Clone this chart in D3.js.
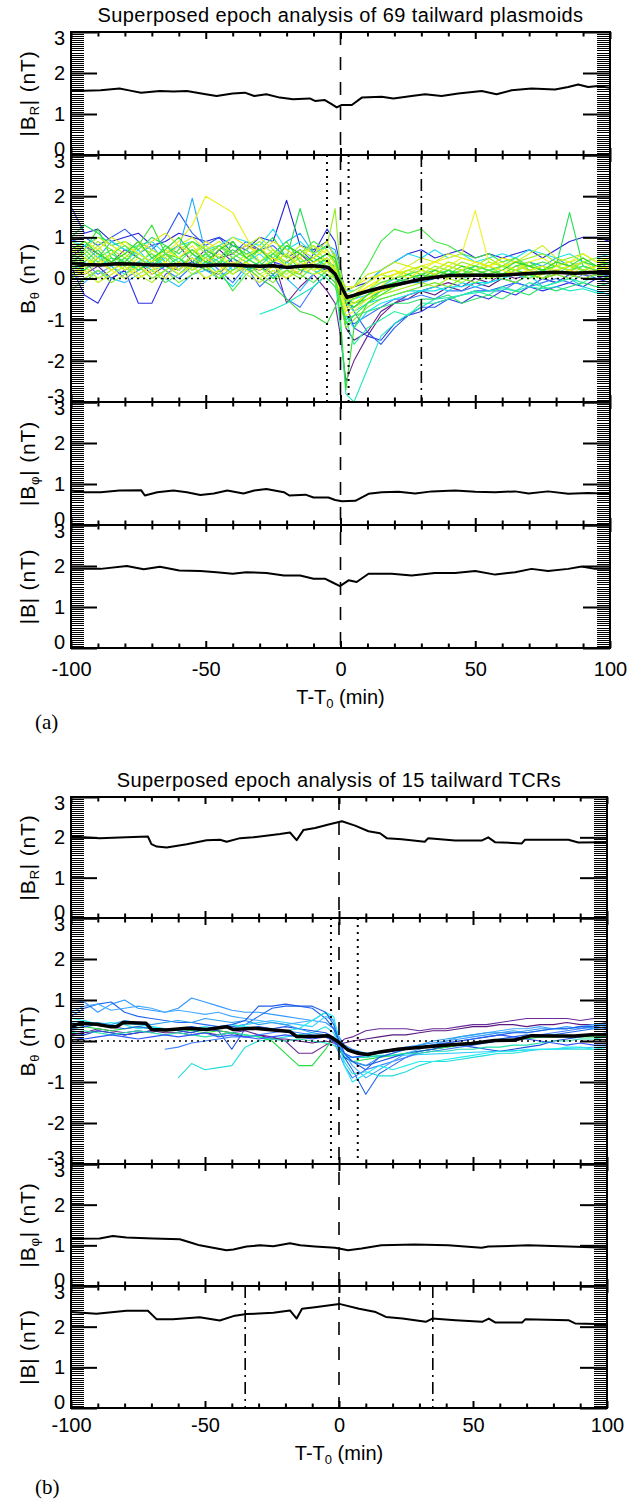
<!DOCTYPE html>
<html><head><meta charset="utf-8">
<script src="https://cdn.jsdelivr.net/npm/d3@7"></script>
<style>
body{margin:0;background:#fff}
svg{display:block}
text{font-family:"Liberation Sans",Arial,Helvetica,sans-serif;fill:#000}
</style>
</head><body>
<svg id="c" width="630" height="1500"></svg>
<script>
// ---------------- DATA ----------------
const tGrid = [-100,-95,-90,-85,-80,-75,-70,-65,-60,-55,-50,-45,-40,-35,-30,-25,-20,-15,-10,-5,-2,0,2,5,10,15,20,25,30,35,40,45,50,55,60,65,70,75,80,85,90,95,100];

const xMajorTicks = [-100,-50,0,50,100];
const xMinorTicks = [-90,-80,-70,-60,-40,-30,-20,-10,10,20,30,40,60,70,80,90];
const yTicksMag = [0,1,2,3];
const yTicksTheta = [-3,-2,-1,0,1,2,3];

const titleA = "Superposed epoch analysis of 69 tailward plasmoids";
const titleB = "Superposed epoch analysis of 15 tailward TCRs";
const xAxisTitle = ["T-T", "0", " (min)"];
const yLabels = [["|B","R","| (nT)"],["B","\u03b8"," (nT)"],["|B","\u03c6","| (nT)"],["|B| (nT)","",""]];

const aDotted = [-5, 3];
const aDashDot = [30];
const bDotted = [-3, 7];
const bDashDot = [-35, 35];

const aTraceColors = ["#6a2490","#58208a","#2424d8","#3030e8","#2a5cf0","#3a78ff","#22aaf5","#30c0ff","#20e8c0","#20e0f0","#10d8e8","#18e6f0","#28f0a0","#30e030","#22dd55","#40e840","#38d838","#2ee070","#90ee20","#a8f020","#c8f01c","#e8f010","#f0f020","#e0e818","#f8f830","#50e850","#78e828","#3ce83c","#ecf41a","#b0f428","#2ad82a","#e4ee14"];
const aTraces = [
[0.5,0.8,0.6,0.4,0.7,0.5,0.3,0.6,0.8,0.4,0.7,0.5,0.6,0.8,0.7,0.5,-0.6,-0.2,0.1,-0.3,-0.6,-1.4,-2.5,-2.0,-1.4,-0.9,-0.6,-0.4,-0.3,-0.2,-0.1,-0.2,0.0,-0.1,0.1,0.0,0.1,0.0,0.1,0.2,0.1,0.0,0.1],
[0.2,0.1,0.3,0.0,0.2,0.4,0.1,0.3,0.2,0.5,0.3,0.7,0.4,0.2,0.3,0.1,0.4,0.6,0.3,0.2,0.1,-0.5,-1.2,-1.5,-1.3,-0.8,-0.6,-0.5,-0.3,-0.4,-0.2,-0.3,-0.1,-0.2,0.0,-0.1,0.1,0.0,-0.1,0.1,0.0,0.1,0.0],
[1.75,1.1,1.2,0.9,1.0,1.1,0.8,0.9,1.1,1.0,0.9,1.0,0.8,0.7,1.0,0.9,1.9,0.8,0.7,0.9,0.5,0.1,-0.3,-0.2,-0.1,0.2,0.4,0.6,0.7,0.5,0.6,0.7,0.5,0.6,0.5,0.6,0.7,0.5,0.7,0.9,1.0,1.0,0.9],
[0.3,-0.4,-0.6,0.0,0.2,-0.6,-0.6,0.1,0.3,0.4,0.2,0.1,0.5,0.3,0.2,0.4,0.3,0.1,0.6,1.2,0.9,0.3,-0.6,-1.2,-1.4,-1.5,-1.1,-0.9,-0.8,-0.6,-0.5,-0.6,-0.4,-0.5,-0.3,-0.4,-0.2,-0.3,-0.2,-0.1,-0.2,0.0,-0.1],
[0.9,1.0,0.8,1.0,1.2,0.9,0.7,1.0,1.6,1.1,0.8,1.0,0.6,0.9,0.7,0.8,0.5,0.7,0.4,0.6,0.4,0.0,-0.4,-0.8,-1.3,-1.6,-1.2,-0.9,-0.7,-0.7,-0.5,-0.4,-0.3,-0.3,-0.2,-0.1,-0.2,0.0,-0.1,0.1,0.0,0.1,0.0],
[0.2,0.4,0.1,0.3,0.0,0.2,0.4,0.2,0.0,0.3,0.5,0.2,-0.1,0.3,-0.2,0.1,-0.5,-0.7,-0.2,0.1,-0.1,-0.5,-0.9,-1.1,-0.9,-0.7,-0.5,-0.5,-0.4,-0.5,-0.3,-0.3,-0.2,-0.3,-0.3,-0.1,-0.2,-0.1,0.0,-0.1,0.1,0.0,0.1],
[0.6,0.8,0.5,0.9,0.7,0.6,0.8,0.4,0.7,1.95,0.6,0.8,0.5,0.7,0.4,0.6,0.9,1.1,0.6,0.8,0.7,0.2,-0.5,-0.7,-0.5,-0.3,-0.2,-0.1,-0.1,0.0,0.1,0.0,0.2,0.1,0.3,0.2,0.4,0.3,0.5,0.3,0.4,0.3,0.4],
[0.1,-0.1,0.2,0.0,-0.1,0.1,0.3,0.0,-0.2,0.1,0.2,0.0,0.3,0.1,-0.1,0.2,0.0,-0.3,0.1,0.3,0.2,-0.2,-0.6,-0.5,-0.4,-0.2,0.0,-0.1,0.1,0.0,0.2,0.0,0.1,0.2,0.1,0.3,0.2,0.1,0.2,0.3,0.2,0.1,0.2],
[null,null,null,null,null,null,null,null,null,null,null,null,null,null,-0.87,-0.75,-0.6,-0.4,-0.2,0.1,0.0,-1.2,-2.8,-3.0,-2.2,-1.4,-1.1,-0.87,-0.7,-0.5,-0.46,-0.4,-0.35,-0.3,-0.25,-0.3,-0.2,-0.25,-0.2,-0.3,-0.25,-0.35,-0.3],
[0.9,0.8,1.0,0.9,0.7,0.8,0.9,0.6,0.8,0.9,0.7,0.8,1.0,0.9,0.8,1.2,0.7,0.9,0.6,0.8,0.6,0.1,-0.3,-0.3,-0.1,0.2,0.4,0.6,0.5,0.7,0.5,0.6,0.4,0.5,0.6,0.5,0.7,0.6,0.5,0.6,0.4,0.5,0.6],
[0.3,0.2,0.5,0.3,0.1,0.4,0.2,0.3,0.5,0.2,0.4,0.1,-0.2,0.2,0.3,0.0,0.4,0.2,0.1,0.3,0.0,-0.3,-0.6,-0.8,-0.6,-0.5,-0.4,-0.3,-0.3,-0.2,-0.3,-0.1,-0.2,-0.1,0.0,-0.1,0.1,-0.2,-0.1,0.0,-0.2,-0.3,-0.4],
[0.5,0.3,0.6,0.2,0.4,0.7,0.3,0.5,0.2,0.6,0.3,0.5,0.2,0.4,0.6,0.3,0.1,0.4,0.2,0.5,0.2,-0.4,-0.9,-1.2,-0.8,-0.6,-0.5,-0.4,-0.3,-0.3,-0.2,-0.2,-0.1,-0.1,0.0,0.1,0.0,0.2,0.1,0.2,0.3,0.2,0.3],
[0.4,0.6,0.3,0.5,0.2,0.4,0.6,0.3,0.5,0.2,0.4,0.3,0.5,0.2,0.4,0.6,0.3,0.5,0.2,0.4,0.1,-0.4,-1.0,-1.6,-1.2,-1.0,-0.8,-0.9,-0.6,-0.6,-0.5,-0.4,-0.3,-0.4,-0.2,-0.3,-0.1,-0.2,-0.1,0.0,-0.1,0.1,0.0],
[0.3,0.7,1.2,0.5,0.4,0.8,1.3,0.6,0.5,0.7,0.4,0.3,0.9,0.5,0.3,0.4,0.6,0.2,0.3,0.5,0.2,-1.0,-2.7,-1.2,-0.6,-0.3,-0.2,0.0,0.1,0.0,0.2,0.1,0.2,0.3,0.1,0.2,0.3,0.2,0.1,0.3,0.2,0.3,0.2],
[1.0,1.3,1.1,0.8,0.9,0.7,1.0,0.8,0.6,0.9,0.7,0.5,0.8,0.6,0.7,1.0,0.5,1.7,0.6,0.4,0.3,-0.2,-0.5,-0.6,-0.4,-0.2,-0.1,0.0,0.1,0.2,0.1,0.2,0.3,0.2,0.3,0.2,0.1,0.2,0.3,1.6,0.3,0.2,0.3],
[0.0,0.2,-0.1,0.1,0.3,0.0,0.2,-0.1,0.1,0.3,0.0,0.2,-0.3,0.1,0.3,0.0,0.2,0.1,-0.1,0.2,0.3,0.0,-0.3,-0.2,0.3,0.9,1.2,1.1,1.2,0.9,0.8,0.6,0.5,0.6,0.4,0.5,0.3,0.4,0.3,0.4,0.2,0.3,0.4],
[0.6,0.4,0.7,0.3,0.5,0.2,0.4,0.6,0.3,0.5,0.2,0.4,0.1,0.3,0.0,-0.2,-0.5,-0.8,-0.9,-1.1,-0.7,-0.3,-0.5,-0.6,-0.5,-0.3,-0.2,-0.1,0.0,0.1,0.0,0.2,0.1,0.0,0.1,0.2,0.1,0.0,0.2,0.1,0.2,0.1,0.2],
[0.2,0.5,0.3,0.6,0.4,0.2,0.5,0.3,0.1,0.4,0.6,0.3,0.5,0.2,0.4,0.1,0.3,0.5,0.2,0.0,-0.2,-0.6,-1.0,-0.9,-0.8,-0.7,-0.6,-0.6,-0.5,-0.5,-0.4,-0.6,-0.5,-0.4,-0.5,-0.3,-0.4,-0.2,-0.3,-0.2,-0.1,-0.2,-0.1],
[0.8,0.6,0.9,0.7,0.5,0.8,0.6,0.4,0.7,0.9,0.6,0.8,0.5,0.7,0.9,0.6,0.4,0.7,0.5,0.8,1.7,0.2,-0.5,-0.5,-0.3,0.0,0.1,0.2,0.1,0.3,0.2,0.4,0.3,0.5,0.3,0.4,0.5,0.6,0.4,0.5,0.6,0.4,0.5],
[0.1,0.3,0.0,0.2,0.4,0.1,-0.1,0.2,0.4,0.1,0.3,0.0,0.2,0.4,0.1,0.3,0.0,0.2,0.4,0.1,0.0,-0.4,-0.8,-0.7,-0.5,-0.4,-0.3,-0.2,-0.1,-0.2,0.0,-0.1,0.1,0.0,0.1,0.2,0.0,0.1,0.2,0.1,0.0,0.1,0.2],
[0.9,0.7,1.0,0.8,0.6,0.9,0.7,0.5,0.8,1.0,0.7,0.9,0.6,0.8,1.0,0.7,0.5,0.8,0.6,0.9,0.5,0.0,-0.2,-0.2,0.1,0.2,0.4,0.3,0.5,0.4,0.6,0.5,0.4,0.3,0.5,0.4,0.6,0.8,0.5,0.4,0.5,0.3,0.5],
[0.5,0.3,0.6,0.4,0.2,0.5,0.3,0.6,0.9,1.3,2.0,1.8,1.6,1.0,0.4,0.7,0.3,0.5,0.2,0.4,0.2,-0.3,-0.7,-0.6,-0.4,-0.3,-0.2,-0.1,0.0,0.1,0.0,0.2,0.1,0.2,0.1,0.3,0.2,0.1,0.2,0.3,0.1,0.2,0.3],
[0.0,0.2,-0.1,0.1,0.3,0.0,0.2,0.4,0.1,0.3,0.0,0.2,0.4,0.1,-0.1,0.2,0.0,0.3,0.1,0.2,0.0,-0.5,-0.9,-0.8,-0.5,-0.2,0.1,0.2,0.3,0.4,0.5,0.6,1.65,0.4,0.3,0.4,0.2,0.3,0.2,0.3,0.4,0.2,0.3],
[0.6,0.9,0.7,1.0,0.8,0.6,0.9,1.1,0.8,0.6,0.9,0.7,1.0,0.8,0.6,0.9,0.7,0.5,0.8,0.6,0.4,0.0,-0.3,-0.2,0.0,0.1,0.2,0.1,0.3,0.2,0.4,0.3,0.2,0.3,0.5,0.4,0.3,0.2,0.4,0.3,0.2,0.3,0.4],
[0.3,0.1,0.4,0.2,0.0,0.3,0.1,0.4,0.2,0.5,0.3,0.1,0.4,0.2,0.0,0.3,0.1,0.4,0.2,0.3,0.1,-0.4,-0.8,-0.5,-0.2,-0.1,0.0,0.1,0.0,0.2,0.1,0.0,0.2,0.1,0.3,0.1,0.2,0.0,0.1,0.2,0.1,0.2,0.1],
[0.5,0.7,0.4,0.6,0.8,0.5,0.3,0.6,0.4,0.7,0.5,0.8,0.6,0.4,0.7,0.5,0.8,0.6,0.9,0.7,0.4,-0.1,-0.4,-0.5,-0.3,-0.1,0.0,0.1,0.2,0.1,0.3,0.2,0.1,0.2,0.3,0.5,0.2,0.3,0.1,0.2,0.3,0.2,0.4],
[-0.3,0.0,0.2,-0.1,0.1,0.3,0.0,0.2,-0.1,0.1,0.3,0.0,0.2,0.4,0.1,-0.1,0.2,0.0,0.3,0.1,-0.1,-0.6,-1.2,-1.0,-0.7,-0.5,-0.4,-0.3,-0.2,-0.1,-0.2,0.0,-0.1,0.1,0.0,-0.1,0.1,0.0,0.1,0.0,0.2,0.1,0.0],
[0.4,0.2,0.5,0.7,0.3,0.6,0.4,0.8,0.5,0.3,0.6,0.4,0.7,0.5,0.3,0.6,0.9,0.4,0.5,0.3,0.0,-0.5,-1.1,-0.9,-0.6,-0.4,-0.2,-0.1,0.0,0.1,0.2,0.1,0.3,0.2,0.1,0.3,0.4,0.2,0.3,0.2,0.4,0.3,0.2],
[0.7,0.5,0.3,0.6,0.9,0.6,0.4,0.7,0.5,0.8,0.4,0.6,0.3,0.5,0.8,0.4,0.6,0.3,0.5,0.7,0.3,-0.2,-0.6,-0.4,-0.2,0.0,0.1,0.3,0.2,0.4,0.3,0.5,0.4,0.3,0.4,0.2,0.4,0.5,0.3,0.4,0.6,0.4,0.5],
[0.2,0.5,0.8,0.4,0.6,0.3,0.7,0.5,0.2,0.6,0.8,0.5,0.3,0.6,0.4,0.7,0.3,0.6,0.8,0.4,0.6,0.1,-0.4,-0.3,-0.1,0.1,0.0,0.2,0.3,0.2,0.4,0.3,0.2,0.4,0.3,0.2,0.3,0.1,0.3,0.2,0.4,0.5,0.3],
[0.7,0.9,0.6,0.4,0.6,0.9,0.5,0.7,1.0,0.6,0.4,0.7,0.9,0.5,0.7,0.4,0.8,0.6,0.4,0.6,0.5,0.0,-0.6,-0.7,-0.4,-0.2,-0.1,0.1,0.0,0.2,0.1,0.3,0.2,0.1,0.2,0.4,0.3,0.2,0.4,0.3,0.5,0.3,0.4],
[0.1,0.3,0.5,0.2,0.4,0.1,0.3,0.0,0.4,0.2,0.5,0.3,0.1,0.4,0.2,0.5,0.3,0.1,0.4,0.5,0.2,-0.3,-0.5,-0.4,-0.1,0.1,0.2,0.0,0.2,0.1,0.3,0.2,0.4,0.3,0.2,0.1,0.2,0.3,0.1,0.2,0.1,0.3,0.2]
];

const bTraceColors = ["#3399ff","#2266ee","#22dddd","#33ccff","#6a2a9a","#5a1a80","#22dd44","#1f4fe0","#4080ff","#44aaff","#22eeee","#22e0b0","#3355ff","#2aa0f0","#2060e8"];
const bTraces = [
[1.0,0.95,0.7,0.9,1.0,0.8,0.75,0.7,0.8,1.05,0.95,0.85,0.75,0.7,0.7,0.65,0.6,0.55,0.5,0.45,0.3,0.1,-0.1,-0.2,-0.3,-0.25,-0.2,-0.15,-0.1,-0.05,0.0,0.05,0.1,0.15,0.2,0.2,0.25,0.3,0.3,0.35,0.3,0.35,0.4],
[0.6,0.8,0.9,0.95,0.7,0.6,0.55,0.5,0.45,0.45,0.4,0.35,0.35,0.4,0.6,0.8,0.85,0.85,0.8,0.55,0.3,-0.05,-0.4,-0.7,-1.3,-0.8,-0.6,-0.4,-0.25,-0.2,-0.15,-0.1,-0.05,0.0,0.05,0.1,0.15,0.1,0.15,0.2,0.25,0.3,0.35],
[null,null,null,null,null,null,null,null,-0.9,-0.55,-0.7,-0.65,-0.6,-0.15,0.0,0.05,0.1,0.15,0.2,0.35,0.2,-0.1,-0.5,-0.8,-0.75,-0.85,-0.85,-0.75,-0.6,-0.5,-0.5,-0.45,-0.4,-0.35,-0.3,-0.3,-0.25,-0.2,-0.2,-0.2,-0.2,-0.2,-0.2],
[0.45,0.5,0.4,0.35,0.45,0.4,0.35,0.3,0.3,0.25,0.3,0.35,0.3,0.4,0.45,0.5,0.45,0.4,0.35,0.6,0.5,0.0,-0.4,-0.4,null,null,null,null,null,null,null,null,null,null,null,null,null,null,null,null,null,null,-0.14],
[0.25,0.2,0.3,0.25,0.2,0.25,0.2,0.3,0.25,0.2,0.3,0.25,0.2,0.25,0.15,0.1,0.0,-0.3,-0.3,-0.1,0.0,-0.1,0.05,0.1,0.25,0.3,0.3,0.3,0.25,0.3,0.3,0.35,0.4,0.4,0.45,0.5,0.55,0.55,0.55,0.55,0.5,0.55,0.55],
[0.15,0.2,0.25,0.2,0.15,0.2,0.25,0.2,0.2,0.15,0.2,0.15,0.2,0.1,0.15,0.05,0.05,0.0,-0.05,0.0,-0.05,-0.1,-0.05,0.0,0.05,0.1,0.15,0.15,0.2,0.25,0.25,0.3,0.35,0.35,0.4,0.4,0.35,0.4,0.4,0.45,0.4,0.4,0.45],
[0.3,0.35,0.3,0.25,0.3,0.35,0.3,0.25,0.3,0.25,0.2,0.25,0.2,0.15,0.1,0.0,-0.3,-0.6,-0.6,-0.2,0.1,-0.2,-0.4,-0.5,-0.45,-0.4,-0.35,-0.3,-0.25,-0.2,-0.15,-0.1,-0.05,0.0,0.0,0.05,0.05,0.1,0.1,0.1,0.1,0.1,0.1],
[0.2,0.15,0.25,0.2,0.15,0.2,0.25,0.3,0.25,0.2,0.3,0.25,-0.2,0.3,0.35,0.3,0.35,0.3,0.25,0.2,0.1,-0.2,-0.4,-0.5,-0.6,-0.5,-0.4,-0.3,-0.25,-0.2,-0.1,-0.1,-0.15,-0.2,-0.25,-0.2,-0.15,-0.1,0.0,0.05,0.1,0.15,0.2],
[null,null,null,null,null,null,null,-0.2,-0.15,-0.05,0.0,0.05,0.1,0.1,0.15,0.2,0.25,0.2,0.15,0.1,0.0,-0.3,-0.6,-0.9,-0.7,-0.6,-0.5,-0.4,-0.3,-0.25,-0.2,-0.15,-0.1,-0.05,0.0,0.05,0.1,0.15,0.2,0.25,0.3,0.35,0.4],
[0.7,0.85,0.9,0.75,0.8,0.85,0.8,0.7,0.75,0.7,0.65,0.7,0.6,0.55,0.5,0.45,0.4,0.45,0.5,0.7,0.5,0.1,-0.3,-0.6,-0.9,-0.7,-0.5,-0.3,-0.2,-0.1,0.0,0.1,0.15,0.2,0.25,0.3,0.3,0.35,0.3,0.3,0.35,0.4,0.4],
[0.55,0.5,0.4,0.45,0.4,0.3,0.35,0.3,0.25,0.3,0.35,0.3,0.4,0.35,0.3,0.3,0.25,0.3,0.5,0.7,0.6,0.0,-0.6,-1.0,-0.8,-0.6,-0.7,-0.6,-0.5,-0.5,-0.45,-0.4,-0.35,-0.3,-0.25,-0.25,-0.2,-0.2,-0.2,-0.15,-0.15,-0.2,-0.15],
[0.2,0.25,0.2,0.15,0.2,0.25,0.2,0.15,0.2,0.15,0.1,0.15,0.2,0.15,0.1,0.05,0.0,0.05,0.0,-0.05,-0.1,-0.2,-0.3,-0.4,-0.4,-0.35,-0.35,-0.3,-0.3,-0.25,-0.25,-0.2,-0.2,-0.15,-0.15,-0.1,-0.1,-0.05,0.0,0.0,0.05,0.05,0.1],
[0.1,0.05,0.1,0.15,0.1,0.05,0.1,0.15,0.1,0.15,0.2,0.1,0.15,0.1,0.05,0.1,0.15,0.1,0.05,0.1,0.0,-0.15,-0.3,-0.4,-0.35,-0.3,-0.25,-0.2,-0.15,-0.1,-0.05,0.0,0.05,0.1,0.15,0.1,0.05,0.0,-0.05,-0.1,-0.05,-0.1,-0.1],
[0.35,0.4,0.45,0.4,0.5,0.45,0.4,0.45,0.5,0.45,0.55,0.5,0.45,0.5,0.4,0.45,0.4,0.3,0.2,0.15,0.05,-0.1,-0.3,-0.5,-0.6,-0.4,-0.3,-0.2,-0.1,0.0,0.05,0.1,0.15,0.2,0.2,0.25,0.2,0.25,0.3,0.3,0.35,0.3,0.35],
[0.3,0.35,0.4,0.35,0.3,0.35,0.3,0.25,0.3,0.35,0.3,0.35,0.4,0.5,0.85,0.85,0.9,0.85,0.85,0.7,0.4,0.0,-0.3,-0.5,-0.7,-0.4,-0.3,-0.2,-0.15,-0.1,-0.05,0.0,0.05,0.1,0.15,0.2,0.2,0.25,0.3,0.3,0.35,0.35,0.3]
];

// superposed-epoch mean curves: [T-T0 (min), value (nT)]
const aBR = [[-100,1.56],[-95,1.57],[-89,1.58],[-82,1.62],[-78,1.57],[-74,1.52],[-67,1.56],[-62,1.55],[-57,1.56],[-50,1.48],[-46,1.44],[-40,1.50],[-35.5,1.52],[-32,1.44],[-27.5,1.48],[-22.5,1.40],[-17.6,1.36],[-11.4,1.38],[-9.5,1.32],[-5.8,1.34],[-3.3,1.24],[-1.4,1.16],[0.5,1.22],[4.2,1.22],[7.9,1.40],[15.3,1.42],[19.6,1.38],[26.4,1.44],[31.4,1.48],[37.5,1.44],[43.7,1.50],[52.4,1.56],[57.9,1.48],[63.5,1.58],[70.9,1.62],[79.6,1.60],[84.5,1.66],[88.2,1.72],[91.9,1.66],[95.6,1.68],[100,1.64]];
const aBth = [[-100,0.37],[-95,0.34],[-89,0.33],[-83,0.36],[-77,0.35],[-70,0.33],[-64.5,0.33],[-58,0.34],[-52,0.31],[-46,0.33],[-40,0.33],[-35,0.31],[-30,0.30],[-25,0.31],[-20,0.27],[-15,0.30],[-10.5,0.31],[-7,0.29],[-4.6,0.27],[-2,0.11],[0.5,-0.22],[2.4,-0.46],[4.5,-0.42],[6.7,-0.37],[10,-0.31],[15.3,-0.22],[22.8,-0.12],[30,-0.02],[35,0.03],[40,0.07],[50,0.08],[59.5,0.08],[69.5,0.12],[79.5,0.15],[87,0.13],[94.4,0.15],[100,0.14]];
const aBphi = [[-100,0.84],[-95,0.80],[-89,0.80],[-82,0.84],[-74,0.85],[-72.6,0.72],[-68,0.80],[-62,0.84],[-57,0.80],[-52,0.73],[-47,0.77],[-42,0.84],[-36,0.77],[-32,0.84],[-27.5,0.88],[-21,0.80],[-19,0.72],[-13,0.74],[-10,0.67],[-4.5,0.67],[-2,0.61],[0.5,0.58],[5.5,0.59],[10.4,0.76],[15.3,0.80],[21.5,0.81],[27.7,0.77],[33.9,0.82],[42.5,0.84],[50,0.81],[57.4,0.80],[64.8,0.82],[69.8,0.77],[77,0.82],[84.5,0.76],[92,0.78],[100,0.76]];
const aB = [[-100,1.93],[-89,1.93],[-79.3,2.00],[-73,1.92],[-67,1.98],[-59.8,1.89],[-52,1.88],[-46,1.85],[-40,1.81],[-35,1.85],[-27.5,1.83],[-21,1.77],[-15,1.77],[-10,1.69],[-5.8,1.69],[-3.3,1.61],[-0.2,1.51],[3,1.65],[6,1.61],[10.4,1.81],[19,1.81],[26.4,1.77],[35,1.83],[42.5,1.83],[50,1.88],[57.4,1.79],[64.8,1.85],[70.9,1.93],[77,1.88],[84.5,1.93],[89.5,1.99],[94.4,1.93],[100,1.93]];

const bBR = [[-100,2.02],[-89.3,1.98],[-79.3,2.0],[-71.3,2.02],[-70,1.83],[-68,1.77],[-64.3,1.75],[-56.8,1.83],[-49.4,1.93],[-44.4,1.94],[-41.9,1.89],[-36.9,1.98],[-32,2.0],[-22,2.08],[-18.3,2.12],[-15.8,1.93],[-13.3,2.18],[-8.9,2.23],[-3.9,2.32],[1.1,2.4],[6,2.29],[11,2.15],[15.3,2.1],[17.8,1.98],[23.4,1.95],[32,1.89],[33.3,1.98],[43.3,1.92],[53.2,1.92],[55.7,2.0],[58.2,1.88],[68.2,1.85],[69.4,1.94],[85.6,1.94],[89.3,1.87],[100,1.88]];
const bBth = [[-100,0.35],[-96.6,0.43],[-90.5,0.41],[-85.5,0.35],[-83,0.35],[-80.5,0.45],[-72,0.43],[-69.9,0.28],[-64.3,0.27],[-56.8,0.31],[-49.4,0.28],[-41.9,0.35],[-39.4,0.28],[-32,0.31],[-24.5,0.27],[-18.3,0.23],[-15.8,0.11],[-9.6,0.11],[-4,0.13],[-0.3,-0.02],[3.4,-0.22],[7.1,-0.3],[10.8,-0.33],[15.8,-0.26],[22,-0.2],[30.7,-0.15],[40.7,-0.1],[49.4,-0.06],[58.1,0.01],[65.5,0.02],[71.8,0.13],[80.5,0.12],[88,0.12],[94.2,0.15],[100,0.15]];
const bBphi = [[-100,1.16],[-89.3,1.17],[-84.4,1.23],[-79.3,1.19],[-69.4,1.17],[-59.4,1.15],[-54.5,1.05],[-52,1.0],[-47,0.94],[-42,0.88],[-39.4,0.90],[-34.5,0.97],[-29.5,1.0],[-24.5,0.98],[-18.3,1.05],[-14.5,1.0],[-9,0.97],[-1.5,0.94],[3.4,0.88],[8.4,0.92],[15.8,1.0],[28.2,1.02],[40.7,1.0],[53.2,0.94],[55.7,0.97],[70.6,1.0],[85.6,0.97],[100,0.94]];
const bB = [[-100,2.36],[-90.5,2.32],[-79.3,2.39],[-71.3,2.39],[-68,2.18],[-62,2.18],[-52,2.23],[-44.5,2.15],[-39.4,2.26],[-34.5,2.31],[-24.5,2.34],[-18.3,2.4],[-15.8,2.2],[-13.8,2.44],[-9,2.48],[0.1,2.56],[7.5,2.44],[13.7,2.36],[17.5,2.24],[23.7,2.2],[32.4,2.12],[34.8,2.2],[43.5,2.16],[53.4,2.12],[55.9,2.2],[58.4,2.1],[68.3,2.1],[69.5,2.18],[85.6,2.16],[88.1,2.08],[100,2.06]];

// ---------------- DRAWING ----------------
const svg = d3.select("#c");
const FONT = '"Liberation Sans", Arial, Helvetica, sans-serif';

function drawFigure(f) {
  const x = d3.scaleLinear().domain([-100, 100]).range([f.x0, f.x1]);
  const g = svg.append("g");

  g.append("text").attr("x", (f.x0 + f.x1) / 2).attr("y", f.titleY)
    .attr("text-anchor", "middle").attr("font-size", 20).attr("letter-spacing", 0.4)
    .text(f.title);

  f.panels.forEach((p, i) => {
    const y = d3.scaleLinear().domain(p.dom).range([p.bottom, p.top]);
    const pg = g.append("g");
    const clipId = f.id + "clip" + i;
    pg.append("clipPath").attr("id", clipId).append("rect")
      .attr("x", f.x0).attr("y", p.top).attr("width", f.x1 - f.x0).attr("height", p.bottom - p.top);
    const plot = pg.append("g").attr("clip-path", `url(#${clipId})`);
    const line = d3.line().x(d => x(d[0])).y(d => y(d[1]));

    if (p.traces) {
      p.traces.forEach((vals, k) => {
        const pts = tGrid.map((t, j) => [t, vals[j]]).filter(d => d[1] !== null);
        plot.append("path").attr("d", line(pts)).attr("fill", "none")
          .attr("stroke", p.colors[k]).attr("stroke-width", 1.1).attr("stroke-linejoin", "round");
      });
      plot.append("line").attr("x1", f.x0).attr("x2", f.x1).attr("y1", y(0)).attr("y2", y(0))
        .attr("stroke", "#000").attr("stroke-width", 1.6).attr("stroke-dasharray", "2,4");
    }
    plot.append("path").attr("d", line(p.mean)).attr("fill", "none")
      .attr("stroke", "#000").attr("stroke-width", p.meanW).attr("stroke-linejoin", "round");

    (p.dotted || []).forEach(t => {
      pg.append("line").attr("x1", x(t)).attr("x2", x(t)).attr("y1", p.top).attr("y2", p.bottom)
        .attr("stroke", "#000").attr("stroke-width", 2).attr("stroke-dasharray", "2,5");
    });
    (p.dashdot || []).forEach(t => {
      pg.append("line").attr("x1", x(t)).attr("x2", x(t)).attr("y1", p.top).attr("y2", p.bottom)
        .attr("stroke", "#000").attr("stroke-width", 1.6).attr("stroke-dasharray", "12,5,2,5");
    });

    const noDomain = s => s.select(".domain").remove();
    const styleAx = s => { s.attr("font-size", 20).attr("font-family", FONT);
      s.selectAll("line").attr("stroke", "#000"); s.selectAll("text").attr("fill", "#000"); };
    const ticksY = p.dom[0] < 0 ? yTicksTheta : yTicksMag;
    const minorY = d3.range(p.dom[0], p.dom[1] + 1e-6, 0.05);
    const crisp = s => s.selectAll("line").attr("stroke", "#000").attr("stroke-width", 1).attr("shape-rendering", "crispEdges");

    pg.append("g").attr("transform", `translate(${f.x0},0)`)
      .call(d3.axisLeft(y).tickValues(minorY).tickSize(-13).tickFormat(""))
      .call(noDomain).call(crisp);
    pg.append("g").attr("transform", `translate(${f.x0},0)`)
      .call(d3.axisLeft(y).tickValues(ticksY).tickSize(-26).tickPadding(6).tickFormat(d => String(d)))
      .call(noDomain).call(styleAx).call(s => s.selectAll("line").attr("stroke-width", 2))
      // extreme labels nudged inward, as in the original layout
      .call(s => s.selectAll(".tick text").attr("transform",
        d => d === p.dom[1] ? "translate(0,6)" : d === p.dom[0] ? "translate(0,-6)" : null));
    pg.append("g").attr("transform", `translate(${f.x1},0)`)
      .call(d3.axisRight(y).tickValues(minorY).tickSize(-13).tickFormat(""))
      .call(noDomain).call(crisp);
    pg.append("g").attr("transform", `translate(${f.x1},0)`)
      .call(d3.axisRight(y).tickValues(ticksY).tickSize(-27).tickFormat(""))
      .call(noDomain).call(s => s.selectAll("line").attr("stroke", "#000").attr("stroke-width", 2));

    pg.append("g").attr("transform", `translate(0,${p.top})`)
      .call(d3.axisTop(x).tickValues(xMajorTicks).tickSize(-7).tickFormat(""))
      .call(noDomain).call(s => s.selectAll("line").attr("stroke", "#000").attr("stroke-width", 2));
    pg.append("g").attr("transform", `translate(0,${p.top})`)
      .call(d3.axisTop(x).tickValues(xMinorTicks).tickSize(-4.5).tickFormat(""))
      .call(noDomain).call(s => s.selectAll("line").attr("stroke", "#000").attr("stroke-width", 2));
    const last = i === f.panels.length - 1;
    pg.append("g").attr("transform", `translate(0,${p.bottom})`)
      .call(d3.axisBottom(x).tickValues(xMajorTicks).tickSize(-7).tickPadding(f.xLabPad)
        .tickFormat(last ? (d => String(d)) : ""))
      .call(noDomain).call(styleAx).call(s => s.selectAll("line").attr("stroke-width", 2));
    pg.append("g").attr("transform", `translate(0,${p.bottom})`)
      .call(d3.axisBottom(x).tickValues(xMinorTicks).tickSize(-4.5).tickFormat(""))
      .call(noDomain).call(s => s.selectAll("line").attr("stroke", "#000").attr("stroke-width", 2));

    pg.append("rect").attr("x", f.x0).attr("y", p.top).attr("width", f.x1 - f.x0).attr("height", p.bottom - p.top)
      .attr("fill", "none").attr("stroke", "#000").attr("stroke-width", 2);

    const lab = yLabels[i];
    const tx = pg.append("text").attr("transform", `translate(${f.yLabX},${(p.top + p.bottom) / 2}) rotate(-90)`)
      .attr("text-anchor", "middle").attr("font-size", 21).attr("letter-spacing", 0.8);
    tx.append("tspan").text(lab[0]);
    if (lab[1]) {
      tx.append("tspan").attr("font-size", 13).attr("dy", 4).text(lab[1]);
      tx.append("tspan").attr("dy", -4).text(lab[2]);
    }
  });

  const top = f.panels[0].top, bot = f.panels[f.panels.length - 1].bottom;
  g.append("line").attr("x1", x(0)).attr("x2", x(0)).attr("y1", top).attr("y2", bot)
    .attr("stroke", "#000").attr("stroke-width", 1.6).attr("stroke-dasharray", "13,12");

  const xt = g.append("text").attr("x", (f.x0 + f.x1) / 2).attr("y", f.xTitleY)
    .attr("text-anchor", "middle").attr("font-size", 20);
  xt.append("tspan").text(xAxisTitle[0]);
  xt.append("tspan").attr("font-size", 13).attr("dy", 4).text(xAxisTitle[1]);
  xt.append("tspan").attr("dy", -4).text(xAxisTitle[2]);

  g.append("text").attr("x", 35).attr("y", f.tagY).attr("font-size", 21)
    .style("font-family", '"Liberation Serif", "Times New Roman", serif')
    .text(f.tag);
}

drawFigure({
  id: "a", title: titleA, titleY: 22, x0: 71, x1: 610, yLabX: 35, xLabPad: 14, xTitleY: 704, tag: "(a)", tagY: 729,
  panels: [
    { top: 32, bottom: 155, dom: [0, 3], mean: aBR, meanW: 2 },
    { top: 155, bottom: 402, dom: [-3, 3], mean: aBth, meanW: 3.5, traces: aTraces, colors: aTraceColors, dotted: aDotted, dashdot: aDashDot },
    { top: 402, bottom: 525, dom: [0, 3], mean: aBphi, meanW: 2 },
    { top: 525, bottom: 648, dom: [0, 3], mean: aB, meanW: 2 }
  ]
});

drawFigure({
  id: "b", title: titleB, titleY: 787, x0: 71, x1: 607, yLabX: 35, xLabPad: 10, xTitleY: 1460, tag: "(b)", tagY: 1494,
  panels: [
    { top: 797, bottom: 918, dom: [0, 3], mean: bBR, meanW: 2 },
    { top: 918, bottom: 1164, dom: [-3, 3], mean: bBth, meanW: 3.5, traces: bTraces, colors: bTraceColors, dotted: bDotted },
    { top: 1164, bottom: 1286, dom: [0, 3], mean: bBphi, meanW: 2 },
    { top: 1286, bottom: 1408, dom: [0, 3], mean: bB, meanW: 2, dashdot: bDashDot }
  ]
});
</script>
</body></html>
